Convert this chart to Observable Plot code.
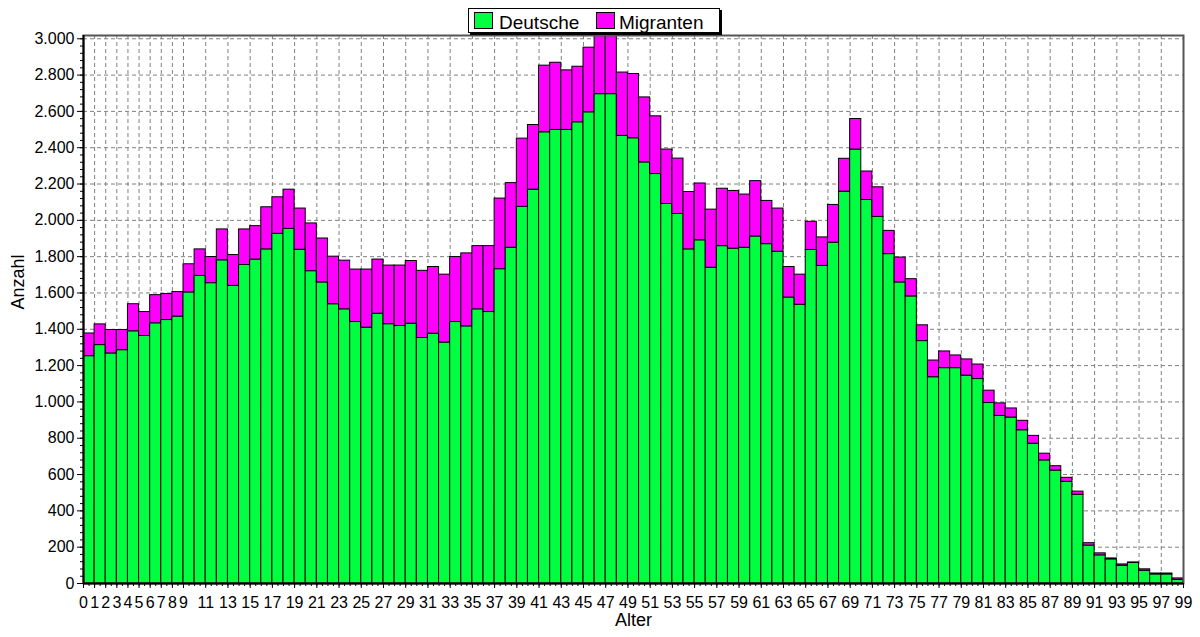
<!DOCTYPE html>
<html><head><meta charset="utf-8">
<script src="https://cdn.jsdelivr.net/npm/d3@7"></script>
<script src="https://cdn.jsdelivr.net/npm/@observablehq/plot@0.6"></script>
<style>
body{margin:0;background:#fff;font-family:"Liberation Sans",Arial,sans-serif;}
#wrap{position:relative;width:1200px;height:637px;}
#legend{position:absolute;left:468px;top:8px;width:250px;height:23px;border:1px solid #000;box-shadow:2px 2px 0 #000;background:#fff;font-size:19px;z-index:2;color:#000;}
.sw{position:absolute;top:3px;width:17px;height:15px;border:1px solid #000;}
.lt{position:absolute;top:1.5px;line-height:23px;white-space:nowrap;}
</style></head><body>
<div id="wrap"></div>
<script>
const seriesNames = ["Deutsche", "Migranten"];
const seriesColors = ["#00ff40", "#ff00ff"];
const ages = [0,1,2,3,4,5,6,7,8,9,10,11,12,13,14,15,16,17,18,19,20,21,22,23,24,25,26,27,28,29,30,31,32,33,34,35,36,37,38,39,40,41,42,43,44,45,46,47,48,49,50,51,52,53,54,55,56,57,58,59,60,61,62,63,64,65,66,67,68,69,70,71,72,73,74,75,76,77,78,79,80,81,82,83,84,85,86,87,88,89,90,91,92,93,94,95,96,97,98];
const deutsche = [1252,1313,1267,1285,1389,1363,1433,1451,1470,1603,
1694,1654,1780,1639,1754,1784,1840,1926,1953,1838,
1720,1658,1538,1510,1440,1409,1486,1428,1418,1431,
1352,1376,1327,1440,1416,1510,1495,1731,1849,2074,
2169,2485,2498,2498,2540,2595,2695,2695,2465,2452,
2319,2255,2090,2035,1840,1890,1739,1858,1844,1849,
1911,1869,1827,1575,1535,1837,1749,1877,2158,2390,
2112,2019,1814,1658,1581,1335,1136,1186,1186,1145,
1126,994,923,914,844,770,678,622,560,489,
209,155,133,98,113,70,50,50,20];
const migranten = [125,114,129,111,149,132,155,143,135,155,
146,144,170,170,196,184,232,201,216,227,
263,242,262,268,289,320,298,323,333,345,
370,367,374,358,402,348,363,389,356,376,
356,367,370,328,306,356,330,335,349,354,
358,318,300,305,316,313,320,316,318,293,
305,238,238,168,166,155,157,208,181,168,
157,163,128,137,95,87,92,92,70,89,
80,68,69,50,52,43,37,24,22,17,
13,11,5,7,3,8,5,5,8];
const xTickLabels = [0,1,2,3,4,5,6,7,8,9,11,13,15,17,19,21,23,25,27,29,31,33,35,37,39,41,43,45,47,49,51,53,55,57,59,61,63,65,67,69,71,73,75,77,79,81,83,85,87,89,91,93,95,97,99];
const yTickValues = [0,200,400,600,800,1000,1200,1400,1600,1800,2000,2200,2400,2600,2800,3000];
const xTitle = "Alter";
const yTitle = "Anzahl";

const rows = [];
ages.forEach((a, i) => {
  rows.push({age: a, series: seriesNames[0], value: deutsche[i]});
  rows.push({age: a, series: seriesNames[1], value: migranten[i]});
});
const de = d3.formatLocale({decimal: ",", thousands: ".", grouping: [3], currency: ["", "€"]}).format(",");
const yMinor = d3.range(0, 3001, 40);
const xMinor = d3.range(0, 99.01, 0.5);
const gridXVals = xTickLabels.filter(v => v > 0 && v < 99);
const gridYVals = yTickValues.filter(v => v > 0);

const chart = Plot.plot({
  width: 1200, height: 637,
  marginLeft: 83, marginRight: 17, marginTop: 35, marginBottom: 54,
  style: {fontFamily: "Liberation Sans, Arial, sans-serif", fontSize: "16px", color: "#000", background: "#fff"},
  x: {domain: [0, 99], label: null},
  y: {domain: [0, 3018], label: null},
  color: {domain: seriesNames, range: seriesColors},
  marks: [
    Plot.gridY(gridYVals, {stroke: "#808080", strokeOpacity: 1, strokeDasharray: "4,3"}),
    Plot.gridX(gridXVals, {stroke: "#808080", strokeOpacity: 1, strokeDasharray: "4,3"}),
    Plot.rectY(rows, {x1: "age", x2: d => d.age + 1, y: "value", fill: "series", stroke: "#000", strokeWidth: 1, clip: true}),
    Plot.frame({stroke: "#555", strokeWidth: 2}),
    Plot.axisY(yMinor, {tickSize: 3, tickFormat: () => "", label: null}),
    Plot.axisY(yTickValues, {tickSize: 6, tickPadding: 3, tickFormat: de, fontSize: 16, label: null}),
    Plot.axisX(xMinor, {tickSize: 3, tickFormat: () => "", label: null}),
    Plot.axisX(xTickLabels, {tickSize: 5, tickPadding: 8, tickFormat: d => String(d), fontSize: 16, label: null}),
    Plot.ruleX([0], {stroke: "#000", strokeWidth: 2}),
    Plot.ruleY([0], {stroke: "#000", strokeWidth: 2}),
    Plot.text([yTitle], {frameAnchor: "left", dx: -65, rotate: -90, fontSize: 18, text: d => d}),
    Plot.text([xTitle], {frameAnchor: "bottom", dy: 42, fontSize: 18, text: d => d})
  ]
});
const wrap = document.getElementById("wrap");
wrap.appendChild(chart);

const legend = document.createElement("div");
legend.id = "legend";
const pos = [{sw: 5, tx: 30}, {sw: 127, tx: 150}];
seriesNames.forEach((name, i) => {
  const sw = document.createElement("div");
  sw.className = "sw";
  sw.style.left = pos[i].sw + "px";
  sw.style.background = seriesColors[i];
  legend.appendChild(sw);
  const t = document.createElement("div");
  t.className = "lt";
  t.style.left = pos[i].tx + "px";
  t.textContent = name;
  legend.appendChild(t);
});
wrap.appendChild(legend);
</script>
</body></html>
